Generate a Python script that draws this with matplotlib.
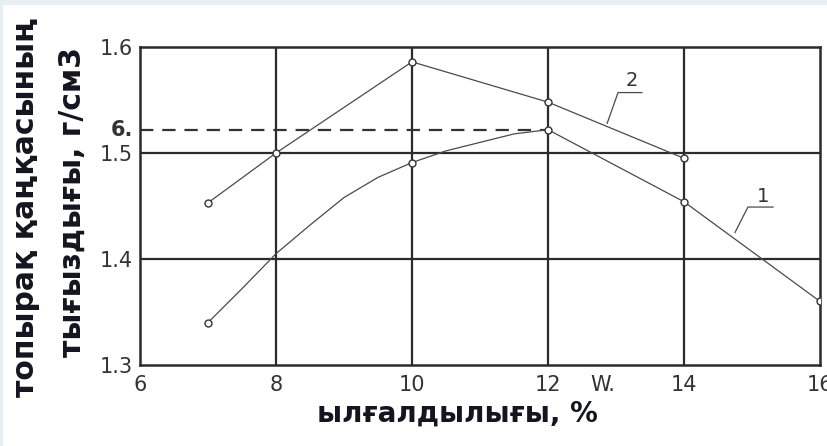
import matplotlib
matplotlib.use("Agg")
import matplotlib.pyplot as plt
from matplotlib.patches import Rectangle
from matplotlib import font_manager

# ---- data ----
x_ticks = [6, 8, 10, 12, 14, 16]
y_ticks = [1.3, 1.4, 1.5, 1.6]
y_tick_labels = ["1.3", "1.4", "1.5", "1.6"]

# curve 1 (lower): traced line and measured points
curve1_x = [7, 7.5, 8, 8.5, 9, 9.5, 10, 10.5, 11, 11.5, 12, 14, 16]
curve1_y = [1.340, 1.372, 1.405, 1.432, 1.458, 1.477, 1.491, 1.502, 1.510, 1.518, 1.522, 1.454, 1.360]
curve1_marks = [0, 6, 10, 11, 12]

# curve 2 (upper)
curve2_x = [7, 8, 10, 12, 14]
curve2_y = [1.453, 1.500, 1.586, 1.548, 1.495]
curve2_marks = [0, 1, 2, 3, 4]

dashed_level = 1.522
dashed_label = "6."

x_label = "ылғалдылығы, %"
y_label_1 = "топырақ қаңқасының"
y_label_2 = "тығыздығы, г/см3"

# ---- figure ----
W, H = 827, 446
fig = plt.figure(figsize=(W / 100, H / 100), dpi=100, facecolor="white")
fig.patches.append(Rectangle((0, 1 - 5 / H), 1, 5 / H, transform=fig.transFigure,
                             facecolor="#e8eff3", edgecolor="none", zorder=-10))
fig.patches.append(Rectangle((0, 0), 3 / W, 1, transform=fig.transFigure,
                             facecolor="#e8eff3", edgecolor="none", zorder=-10))

avail = {f.name for f in font_manager.fontManager.ttflist}
tick_family = "Liberation Sans Narrow" if "Liberation Sans Narrow" in avail else "DejaVu Sans"

ax = fig.add_axes([140 / W, 1 - 365 / H, 680 / W, 318 / H])
ax.set_facecolor("white")
ax.set_xlim(6, 16)
ax.set_ylim(1.3, 1.6)

grid_col = "#2b2b2b"
for xv in x_ticks[1:-1]:
    ax.axvline(xv, color=grid_col, lw=1.6, zorder=1)
for yv in y_ticks[1:-1]:
    ax.axhline(yv, color=grid_col, lw=1.6, zorder=1)
for s in ax.spines.values():
    s.set_color(grid_col)
    s.set_linewidth(1.8)

ax.hlines(dashed_level, 6, 12, colors="#333333", linestyles=(0, (6, 4)), lw=1.6, zorder=2)

line_col = "#4a4a4a"
ax.plot(curve1_x, curve1_y, color=line_col, lw=0.9, zorder=3,
        marker="o", markevery=curve1_marks, markersize=5, markerfacecolor="white",
        markeredgecolor="#333333", markeredgewidth=1.0)
ax.plot(curve2_x, curve2_y, color=line_col, lw=0.9, zorder=3,
        marker="o", markevery=curve2_marks, markersize=5, markerfacecolor="white",
        markeredgecolor="#333333", markeredgewidth=1.0)

ax.set_xticks(x_ticks)
ax.set_xticklabels([str(v) for v in x_ticks])
ax.set_yticks(y_ticks)
ax.set_yticklabels(y_tick_labels)
ax.tick_params(length=0, labelsize=15, colors="#333333", pad=7)
for lab in ax.get_xticklabels() + ax.get_yticklabels():
    lab.set_family(tick_family)
ax.tick_params(axis="y", pad=5)

# extra labels
ax.annotate(dashed_label, (6, dashed_level), xytext=(-5, 0), textcoords="offset points",
            ha="right", va="center", fontsize=15, family=tick_family, color="#333333",
            fontweight="bold")
ax.annotate("W.", (12.8, 1.3), xytext=(0, -7), textcoords="offset points",
            ha="center", va="top", fontsize=15, family=tick_family, color="#333333")

# curve labels with leader lines
ax.plot([12.87, 13.03, 13.38], [1.528, 1.557, 1.557], color=line_col, lw=0.9, zorder=3)
ax.text(13.235, 1.568, "2", ha="center", va="center", fontsize=14, family=tick_family, color="#333333")
ax.plot([14.75, 14.94, 15.31], [1.425, 1.449, 1.449], color=line_col, lw=0.9, zorder=3)
ax.text(15.16, 1.459, "1", ha="center", va="center", fontsize=14, family=tick_family, color="#333333")

# axis titles
lab_col = "#151520"
fig.text(457 / W, 1 - 414 / H, x_label, ha="center", va="center", fontsize=20,
         fontweight="bold", color=lab_col, family="DejaVu Sans")
fig.text(26 / W, 1 - 207 / H, y_label_1, ha="center", va="center", rotation=90,
         fontsize=21.5, fontweight="bold", color=lab_col, family="DejaVu Sans")
fig.text(72 / W, 1 - 202 / H, y_label_2, ha="center", va="center", rotation=90,
         fontsize=21.5, fontweight="bold", color=lab_col, family="DejaVu Sans")

fig.savefig("out.png", dpi=100, facecolor=fig.get_facecolor())
